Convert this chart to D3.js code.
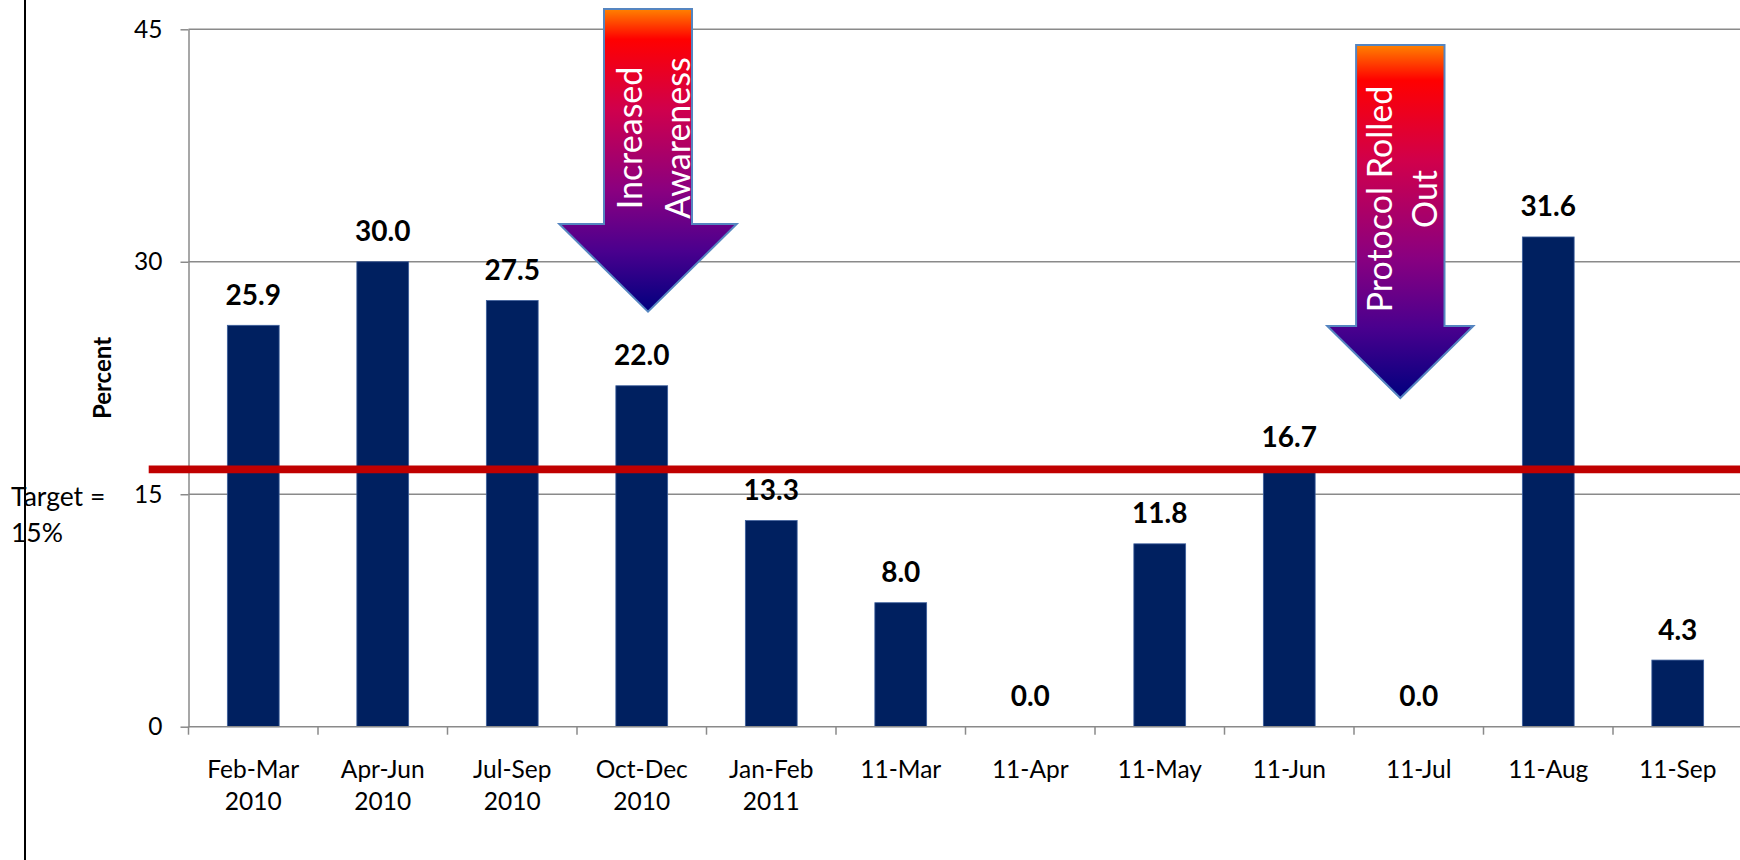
<!DOCTYPE html>
<html>
<head>
<meta charset="utf-8">
<script src="https://cdn.jsdelivr.net/npm/d3@7"></script>
<style>
  html, body { margin: 0; padding: 0; background: #fff; }
  svg { display: block; font-family: Lato, "Open Sans", "DejaVu Sans", sans-serif; }
</style>
</head>
<body>
<svg id="chart" width="1740" height="860"></svg>
<script>
// Reporting periods (second line of the label after "\n")
const categories = [
  "Feb-Mar\n2010", "Apr-Jun\n2010", "Jul-Sep\n2010", "Oct-Dec\n2010", "Jan-Feb\n2011",
  "11-Mar", "11-Apr", "11-May", "11-Jun", "11-Jul", "11-Aug", "11-Sep"
];
// Percent per period
const values = [25.9, 30.0, 27.5, 22.0, 13.3, 8.0, 0.0, 11.8, 16.7, 0.0, 31.6, 4.3];
const yTicks = [0, 15, 30, 45];
const yTitle = "Percent";
const targetText = ["Target =", "15%"];
const targetLineValue = 16.6;
const arrowNotes = [
  ["Increased", "Awareness"],
  ["Protocol Rolled", "Out"]
];

const svg = d3.select("#chart");

const plot = { left: 188.5, right: 1742.5, top: 29.3, bottom: 726.7 };

const x = d3.scaleBand()
  .domain(categories)
  .range([plot.left, plot.right])
  .paddingInner(0.6)
  .paddingOuter(0.3);

const y = d3.scaleLinear()
  .domain([0, 45])
  .range([plot.bottom, plot.top]);

const gridColor = "#8a8a8a";

// Horizontal gridlines
svg.append("g")
  .selectAll("line")
  .data(yTicks.filter(d => d > 0))
  .join("line")
  .attr("x1", plot.left).attr("x2", plot.right)
  .attr("y1", d => y(d)).attr("y2", d => y(d))
  .attr("stroke", gridColor).attr("stroke-width", 1.5);

// Y axis
const yAxis = svg.append("g")
  .attr("transform", `translate(${plot.left},0)`)
  .call(d3.axisLeft(y).tickValues(yTicks).tickSize(8).tickPadding(18).tickSizeOuter(0));
yAxis.select(".domain").attr("stroke", gridColor).attr("stroke-width", 1.5);
yAxis.selectAll(".tick line").attr("stroke", gridColor).attr("stroke-width", 1.5);
yAxis.selectAll(".tick text")
  .attr("fill", "#000")
  .style("font-size", "24.5px")
  .style("font-family", "Lato, sans-serif");

// Y title
svg.append("text")
  .attr("transform", `translate(111,378) rotate(-90)`)
  .attr("text-anchor", "middle")
  .style("font-size", "24px")
  .style("font-weight", "bold")
  .attr("fill", "#000")
  .text(yTitle);

// Bars
svg.append("g")
  .selectAll("rect")
  .data(values)
  .join("rect")
  .attr("x", (d, i) => x(categories[i]))
  .attr("width", x.bandwidth())
  .attr("y", d => y(d))
  .attr("height", d => y(0) - y(d))
  .attr("fill", "#002060")
  .attr("stroke", "#3d5f9c")
  .attr("stroke-width", 0.8);

// X axis line and boundary ticks
const step = x.step();
svg.append("line")
  .attr("x1", plot.left).attr("x2", plot.right)
  .attr("y1", y(0)).attr("y2", y(0))
  .attr("stroke", gridColor).attr("stroke-width", 1.5);
svg.append("g")
  .selectAll("line")
  .data(d3.range(categories.length + 1))
  .join("line")
  .attr("x1", i => plot.left + i * step).attr("x2", i => plot.left + i * step)
  .attr("y1", y(0)).attr("y2", y(0) + 8)
  .attr("stroke", gridColor).attr("stroke-width", 1.5);

// X labels
const xLabels = svg.append("g")
  .selectAll("text")
  .data(categories)
  .join("text")
  .attr("text-anchor", "middle")
  .attr("fill", "#000")
  .style("font-size", "24.5px");
xLabels.each(function (d) {
  const cx = x(d) + x.bandwidth() / 2;
  d.split("\n").forEach((line, k) => {
    d3.select(this).append("tspan")
      .attr("x", cx)
      .attr("y", y(0) + 51.6 + k * 31.7)
      .text(line);
  });
});

// Value labels
svg.append("g")
  .selectAll("text")
  .data(values)
  .join("text")
  .attr("x", (d, i) => x(categories[i]) + x.bandwidth() / 2)
  .attr("y", d => y(d) - 20.5)
  .attr("text-anchor", "middle")
  .attr("fill", "#000")
  .style("font-size", "28px")
  .style("font-weight", "bold")
  .text(d => d3.format(".1f")(d));

// Target line
svg.append("line")
  .attr("x1", 148.7).attr("x2", 1740)
  .attr("y1", y(targetLineValue)).attr("y2", y(targetLineValue))
  .attr("stroke", "#c00000").attr("stroke-width", 7.7);

// Target text
svg.append("g")
  .selectAll("text")
  .data(targetText)
  .join("text")
  .attr("x", 11)
  .attr("y", (d, i) => 506 + i * 35.7)
  .attr("fill", "#000")
  .style("font-size", "26.5px")
  .text(d => d);

// Gradient for the callout arrows
const defs = svg.append("defs");
const grad = defs.append("linearGradient")
  .attr("id", "arrowFill")
  .attr("x1", 0).attr("y1", 0).attr("x2", 0).attr("y2", 1);
[
  [0, "#ff8200"], [0.1, "#ff0000"], [0.33, "#d0004c"],
  [0.6, "#8a0080"], [0.8, "#4a008e"], [1, "#00007e"]
].forEach(([o, c]) => grad.append("stop").attr("offset", o).attr("stop-color", c));

// Callout arrows: center x, top, head start, tip, shaft half width, head half width, text baselines
const arrowGeom = [
  { cx: 648, top: 9, neck: 224, tip: 311.7, shaft: 44, head: 88.7, textY: 138, baselines: [641.7, 690] },
  { cx: 1400.3, top: 45, neck: 326, tip: 398, shaft: 44.2, head: 73, textY: 199, baselines: [1391.7, 1436.7] }
];

arrowNotes.forEach((lines, i) => {
  const g = arrowGeom[i];
  const pts = [
    [g.cx - g.shaft, g.top], [g.cx + g.shaft, g.top], [g.cx + g.shaft, g.neck],
    [g.cx + g.head, g.neck], [g.cx, g.tip], [g.cx - g.head, g.neck],
    [g.cx - g.shaft, g.neck]
  ];
  svg.append("path")
    .attr("d", d3.line()(pts) + "Z")
    .attr("fill", "url(#arrowFill)")
    .attr("stroke", "#5585c0")
    .attr("stroke-width", 2)
    .attr("stroke-linejoin", "miter");
  lines.forEach((t, k) => {
    svg.append("text")
      .attr("transform", `translate(${g.baselines[k]},${g.textY}) rotate(-90)`)
      .attr("text-anchor", "middle")
      .attr("fill", "#fff")
      .style("font-size", "34px")
      .text(t);
  });
});

// Left frame line
svg.append("line")
  .attr("x1", 25).attr("x2", 25)
  .attr("y1", 0).attr("y2", 860)
  .attr("stroke", "#000").attr("stroke-width", 2);
</script>
</body>
</html>
